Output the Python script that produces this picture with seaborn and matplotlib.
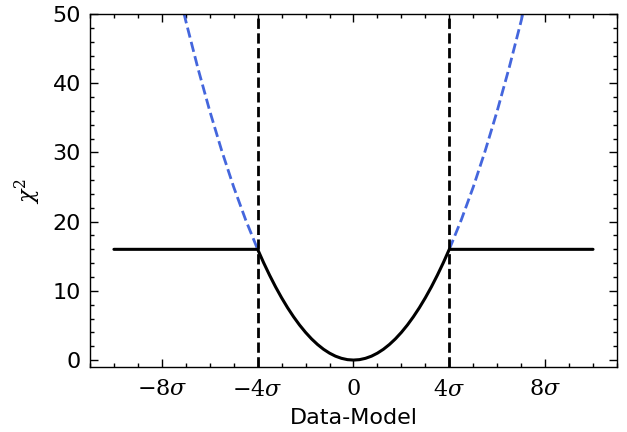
import matplotlib
matplotlib.use("Agg")
import matplotlib.pyplot as plt
from matplotlib.ticker import MultipleLocator, FixedLocator
import seaborn as sns
import pandas as pd

# Clipped chi-square curve (black): flat beyond the clip point
x_clip = [-10, -4, -3.75, -3.5, -3.25, -3, -2.75, -2.5, -2.25, -2, -1.75,
          -1.5, -1.25, -1, -0.75, -0.5, -0.25, 0, 0.25, 0.5, 0.75, 1, 1.25,
          1.5, 1.75, 2, 2.25, 2.5, 2.75, 3, 3.25, 3.5, 3.75, 4, 10]
y_clip = [16, 16, 14.06, 12.25, 10.56, 9, 7.56, 6.25, 5.06, 4, 3.06,
          2.25, 1.56, 1, 0.56, 0.25, 0.06, 0, 0.06, 0.25, 0.56, 1, 1.56,
          2.25, 3.06, 4, 5.06, 6.25, 7.56, 9, 10.56, 12.25, 14.06, 16, 16]

# Unclipped continuation (blue dashed) outside the clip points
x_left = [-7.5, -7, -6.5, -6, -5.5, -5, -4.5, -4]
y_left = [56.25, 49, 42.25, 36, 30.25, 25, 20.25, 16]
x_right = [4, 4.5, 5, 5.5, 6, 6.5, 7, 7.5]
y_right = [16, 20.25, 25, 30.25, 36, 42.25, 49, 56.25]

clip_at = [-4, 4]
xticks = [-8, -4, 0, 4, 8]
xtick_labels = [r"$-8\sigma$", r"$-4\sigma$", r"$0$", r"$4\sigma$", r"$8\sigma$"]

sns.set_style("ticks")
plt.rcParams["mathtext.fontset"] = "dejavuserif"
plt.rcParams["font.family"] = ["DejaVu Sans"]
plt.rcParams["text.color"] = "black"
plt.rcParams["axes.labelcolor"] = "black"
plt.rcParams["xtick.color"] = "black"
plt.rcParams["ytick.color"] = "black"

fig = plt.figure(figsize=(6.27, 4.32), dpi=100)
ax = fig.add_axes([0.1435, 0.1505, 0.8405, 0.817])

blue = "#4466DD"
sns.lineplot(data=pd.DataFrame({"x": x_left, "y": y_left}), x="x", y="y",
             ax=ax, color=blue, linestyle="--", linewidth=2.0, zorder=1)
sns.lineplot(data=pd.DataFrame({"x": x_right, "y": y_right}), x="x", y="y",
             ax=ax, color=blue, linestyle="--", linewidth=2.0, zorder=1)
sns.lineplot(data=pd.DataFrame({"x": x_clip, "y": y_clip}), x="x", y="y",
             ax=ax, color="black", linewidth=2.2, zorder=3, sort=False)
for xc in clip_at:
    ax.axvline(xc, color="black", linestyle="--", linewidth=2.0, zorder=2)

ax.set_xlim(-11, 11)
ax.set_ylim(-1, 50)
ax.xaxis.set_major_locator(FixedLocator(xticks))
ax.set_xticklabels(xtick_labels)
ax.xaxis.set_minor_locator(MultipleLocator(1))
ax.yaxis.set_major_locator(MultipleLocator(10))
ax.yaxis.set_minor_locator(MultipleLocator(2))
ax.tick_params(which="both", direction="in", top=True, right=True,
               labelsize=16, width=1.0, color="black", labelcolor="black")
ax.tick_params(which="major", length=6)
ax.tick_params(which="minor", length=3)
ax.tick_params(axis="x", which="major", pad=8.5)
ax.tick_params(axis="y", which="major", pad=6.5)
for s in ax.spines.values():
    s.set_linewidth(1.0)
    s.set_color("black")

ax.set_xlabel("Data-Model", fontsize=16, color="black", labelpad=6)
ax.set_ylabel(r"$\chi^2$", fontsize=16, color="black", labelpad=7)

fig.savefig("out.png", dpi=100)
